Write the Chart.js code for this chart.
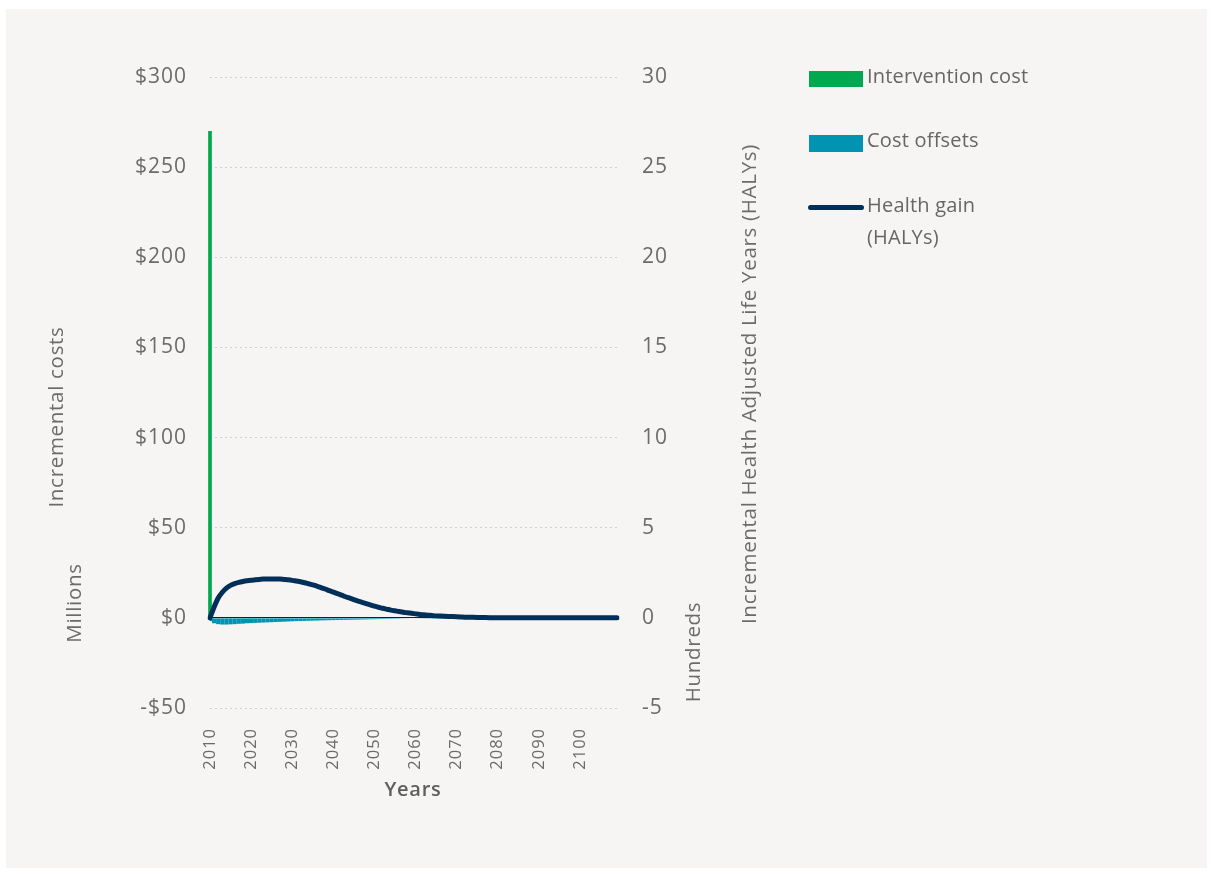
<!DOCTYPE html>
<html>
<head>
<meta charset="utf-8">
<title>Incremental costs and health gain</title>
<script src="https://cdn.jsdelivr.net/npm/chart.js@4.4.1/dist/chart.umd.min.js"></script>
<style>
  html, body { margin: 0; padding: 0; background: #ffffff; }
  #panel { position: absolute; left: 6px; top: 9px; width: 1201px; height: 859px; background: #f6f5f3; }
  #chart { position: absolute; left: 0; top: 0; }
  .legend { position: absolute; font-family: "Open Sans", sans-serif; font-size: 20px; letter-spacing: 0.2px; color: #666666; line-height: 32px; }
  .legend .sw { position: absolute; }
  .legend .tx { position: absolute; left: 59px; white-space: nowrap; }
</style>
</head>
<body>
<div id="panel"></div>
<canvas id="chart" width="1211" height="876"></canvas>

<div class="legend" style="left:808px; top:60px;">
  <div class="sw" style="left:1px; top:11px; width:54px; height:16px; background:#00a84f;"></div>
  <div class="tx" style="top:0;">Intervention cost</div>
</div>
<div class="legend" style="left:808px; top:124px;">
  <div class="sw" style="left:1px; top:11px; width:54px; height:17px; background:#0093b2;"></div>
  <div class="tx" style="top:0;">Cost offsets</div>
</div>
<div class="legend" style="left:808px; top:189px;">
  <div class="sw" style="left:0; top:16px; width:56px; height:5px; border-radius:3px; background:#00305a;"></div>
  <div class="tx" style="top:0;">Health gain<br>(HALYs)</div>
</div>

<script>
// Years shown on the horizontal axis
const years = [];
for (let y = 2010; y <= 2109; y++) years.push(String(y));

// Intervention cost, $ millions (one-off spend in the first year)
const interventionCost = [
  270, 0, 0, 0, 0, 0, 0, 0, 0, 0,
  0, 0, 0, 0, 0, 0, 0, 0, 0, 0,
  0, 0, 0, 0, 0, 0, 0, 0, 0, 0,
  0, 0, 0, 0, 0, 0, 0, 0, 0, 0,
  0, 0, 0, 0, 0, 0, 0, 0, 0, 0,
  0, 0, 0, 0, 0, 0, 0, 0, 0, 0,
  0, 0, 0, 0, 0, 0, 0, 0, 0, 0,
  0, 0, 0, 0, 0, 0, 0, 0, 0, 0,
  0, 0, 0, 0, 0, 0, 0, 0, 0, 0,
  0, 0, 0, 0, 0, 0, 0, 0, 0, 0
];

// Cost offsets, $ millions (savings shown as negative costs)
const costOffsets = [
  -1.8, -3.0, -3.5, -3.7, -3.7, -3.6, -3.5, -3.3, -3.2, -3.0,
  -2.9, -2.8, -2.7, -2.6, -2.5, -2.4, -2.3, -2.2, -2.1, -2.0,
  -1.9, -1.8, -1.75, -1.7, -1.6, -1.55, -1.5, -1.4, -1.35, -1.3,
  -1.25, -1.2, -1.15, -1.1, -1.05, -1.0, -0.95, -0.9, -0.85, -0.8,
  -0.75, -0.7, -0.65, -0.6, -0.55, -0.5, -0.45, -0.4, -0.35, -0.3,
  -0.25, -0.2, -0.15, -0.12, -0.1, -0.08, -0.06, -0.04, -0.02, -0.01,
  0, 0, 0, 0, 0, 0, 0, 0, 0, 0,
  0, 0, 0, 0, 0, 0, 0, 0, 0, 0,
  0, 0, 0, 0, 0, 0, 0, 0, 0, 0,
  0, 0, 0, 0, 0, 0, 0, 0, 0, 0
];

// Health gain, HALYs in hundreds
const healthGain = [
  0, 0.6, 1.1, 1.42, 1.65, 1.8, 1.9, 1.97, 2.02, 2.06,
  2.09, 2.11, 2.13, 2.15, 2.16, 2.16, 2.16, 2.15, 2.13, 2.11,
  2.08, 2.04, 2.0, 1.95, 1.89, 1.83, 1.76, 1.68, 1.6, 1.51,
  1.43, 1.34, 1.26, 1.17, 1.09, 1.01, 0.93, 0.86, 0.79, 0.72,
  0.65, 0.59, 0.53, 0.48, 0.43, 0.39, 0.35, 0.31, 0.28, 0.25,
  0.22, 0.19, 0.17, 0.15, 0.13, 0.11, 0.1, 0.09, 0.08, 0.07,
  0.06, 0.05, 0.04, 0.035, 0.03, 0.025, 0.02, 0.015, 0.012, 0.01,
  0.008, 0.006, 0.005, 0.004, 0.003, 0.002, 0.001, 0, 0, 0,
  0, 0, 0, 0, 0, 0, 0, 0, 0, 0,
  0, 0, 0, 0, 0, 0, 0, 0, 0, 0
];

// Axis ranges and tick steps
const costAxis = { min: -50, max: 300, step: 50 };
const halyAxis = { min: -5, max: 30, step: 5 };

const FONT = '"Open Sans", sans-serif';
const GREY = '#6b6b6b';

function money(v) {
  return (v < 0 ? '-$' : '$') + Math.abs(v);
}

// Slightly wider letter spacing for all canvas text
const textSpacing = {
  id: 'textSpacing',
  beforeDraw(chart) {
    chart.ctx.letterSpacing = '1px';
  }
};

// Rotated axis captions and the "Years" caption
const axisCaptions = {
  id: 'axisCaptions',
  afterDraw(chart) {
    const ctx = chart.ctx;
    ctx.save();
    ctx.letterSpacing = '0.7px';
    ctx.fillStyle = GREY;
    ctx.textAlign = 'center';
    ctx.textBaseline = 'middle';
    ctx.font = '20.5px ' + FONT;
    const rotated = (text, x, y) => {
      ctx.save();
      ctx.translate(x, y);
      ctx.rotate(-Math.PI / 2);
      ctx.fillText(text, 0, 0);
      ctx.restore();
    };
    rotated('Incremental costs', 57, 417);
    rotated('Millions', 75, 603);
    rotated('Incremental Health Adjusted Life Years (HALYs)', 750, 384);
    rotated('Hundreds', 694, 652);
    ctx.font = '600 20px ' + FONT;
    ctx.fillStyle = '#5e5e5e';
    ctx.fillText('Years', 413, 790);
    ctx.restore();
  }
};

new Chart(document.getElementById('chart'), {
  data: {
    labels: years,
    datasets: [
      {
        type: 'line',
        label: 'Health gain (HALYs)',
        data: healthGain,
        yAxisID: 'yHaly',
        borderColor: '#00305a',
        borderWidth: 5,
        borderCapStyle: 'round',
        borderJoinStyle: 'round',
        pointRadius: 0,
        cubicInterpolationMode: 'monotone',
        fill: false,
        order: 0
      },
      {
        type: 'bar',
        label: 'Intervention cost',
        data: interventionCost,
        yAxisID: 'yCost',
        backgroundColor: '#00a84f',
        barPercentage: 1,
        categoryPercentage: 0.9,
        grouped: false,
        clip: false,
        order: 2
      },
      {
        type: 'bar',
        label: 'Cost offsets',
        data: costOffsets,
        yAxisID: 'yCost',
        backgroundColor: '#0093b2',
        borderColor: '#0093b2',
        borderWidth: 0,
        barPercentage: 1,
        categoryPercentage: 1.02,
        grouped: false,
        order: 1
      }
    ]
  },
  options: {
    responsive: false,
    animation: false,
    devicePixelRatio: 1,
    layout: { padding: { top: 77, bottom: 0, left: 0, right: 0 } },
    plugins: {
      legend: { display: false },
      tooltip: { enabled: false }
    },
    scales: {
      x: {
        type: 'category',
        offset: false,
        grid: { display: false },
        border: { display: false },
        ticks: {
          autoSkip: false,
          minRotation: 90,
          maxRotation: 90,
          padding: 12,
          color: GREY,
          font: { family: FONT, size: 16.5 },
          callback(value, index) {
            return index % 10 === 0 ? years[index] : '';
          }
        },
        afterFit(scale) { scale.height = 168; }
      },
      yCost: {
        type: 'linear',
        position: 'left',
        min: costAxis.min,
        max: costAxis.max,
        grid: {
          drawTicks: false,
          lineWidth: 1,
          color: (c) => (c.tick && c.tick.value === 0 ? '#1e1e1e' : '#cfcfcf')
        },
        border: {
          display: false,
          dash: (c) => (c.tick && c.tick.value === 0 ? [] : [2, 3])
        },
        ticks: {
          stepSize: costAxis.step,
          padding: 23,
          color: GREY,
          font: { family: FONT, size: 21 },
          callback: (v) => money(v)
        },
        afterFit(scale) { scale.width = 210; }
      },
      yHaly: {
        type: 'linear',
        position: 'right',
        min: halyAxis.min,
        max: halyAxis.max,
        grid: { display: false, drawTicks: false },
        border: { display: false },
        ticks: {
          stepSize: halyAxis.step,
          padding: 25,
          color: GREY,
          font: { family: FONT, size: 21 }
        },
        afterFit(scale) { scale.width = 594; }
      }
    }
  },
  plugins: [textSpacing, axisCaptions]
});
</script>
</body>
</html>
